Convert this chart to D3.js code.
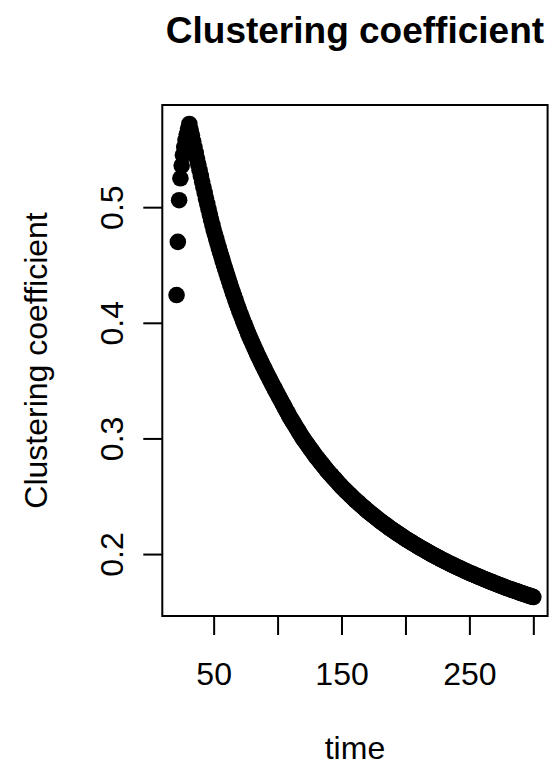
<!DOCTYPE html>
<html>
<head>
<meta charset="utf-8">
<script src="https://cdn.jsdelivr.net/npm/d3@7"></script>
<style>
  body { margin: 0; background: #fff; }
  svg text { font-family: "Liberation Sans", Arial, sans-serif; }
</style>
</head>
<body>
<svg id="chart" width="555" height="767"></svg>
<script>
const time = [
   21, 22, 23, 24, 25, 26, 27, 28, 29, 30, 31, 32, 33, 34, 35, 36, 37, 38, 39, 40,
   41, 42, 43, 44, 45, 46, 47, 48, 49, 50, 51, 52, 53, 54, 55, 56, 57, 58, 59, 60,
   61, 62, 63, 64, 65, 66, 67, 68, 69, 70, 71, 72, 73, 74, 75, 76, 77, 78, 79, 80,
   81, 82, 83, 84, 85, 86, 87, 88, 89, 90, 91, 92, 93, 94, 95, 96, 97, 98, 99,100,
  101,102,103,104,105,106,107,108,109,110,111,112,113,114,115,116,117,118,119,120,
  121,122,123,124,125,126,127,128,129,130,131,132,133,134,135,136,137,138,139,140,
  141,142,143,144,145,146,147,148,149,150,151,152,153,154,155,156,157,158,159,160,
  161,162,163,164,165,166,167,168,169,170,171,172,173,174,175,176,177,178,179,180,
  181,182,183,184,185,186,187,188,189,190,191,192,193,194,195,196,197,198,199,200,
  201,202,203,204,205,206,207,208,209,210,211,212,213,214,215,216,217,218,219,220,
  221,222,223,224,225,226,227,228,229,230,231,232,233,234,235,236,237,238,239,240,
  241,242,243,244,245,246,247,248,249,250,251,252,253,254,255,256,257,258,259,260,
  261,262,263,264,265,266,267,268,269,270,271,272,273,274,275,276,277,278,279,280,
  281,282,283,284,285,286,287,288,289,290,291,292,293,294,295,296,297,298,299,300
];

const clustering = [
  0.424, 0.470, 0.506, 0.525, 0.536, 0.545, 0.552, 0.558, 0.563, 0.568,
  0.572, 0.567, 0.562, 0.557, 0.552, 0.547, 0.542, 0.537, 0.532, 0.527,
  0.5221, 0.5172, 0.5124, 0.5076, 0.5029, 0.4983, 0.4937, 0.4892, 0.4848, 0.4805,
  0.4765, 0.4726, 0.4687, 0.4649, 0.4612, 0.4575, 0.4539, 0.4503, 0.4468, 0.4433,
  0.4399, 0.4364, 0.4330, 0.4296, 0.4263, 0.4230, 0.4198, 0.4167, 0.4136, 0.4106,
  0.4076, 0.4047, 0.4018, 0.3990, 0.3962, 0.3935, 0.3908, 0.3882, 0.3856, 0.3831,
  0.3806, 0.3781, 0.3757, 0.3733, 0.3709, 0.3686, 0.3663, 0.3640, 0.3618, 0.3596,
  0.3574, 0.3552, 0.3530, 0.3509, 0.3487, 0.3466, 0.3445, 0.3424, 0.3403, 0.3382,
  0.3362, 0.3341, 0.3321, 0.3300, 0.3280, 0.3259, 0.3239, 0.3218, 0.3198, 0.3177,
  0.3159, 0.3141, 0.3123, 0.3105, 0.3088, 0.3070, 0.3052, 0.3034, 0.3016, 0.2998,
  0.2983, 0.2967, 0.2952, 0.2936, 0.2921, 0.2905, 0.2890, 0.2874, 0.2859, 0.2843,
  0.2829, 0.2816, 0.2802, 0.2788, 0.2775, 0.2761, 0.2747, 0.2733, 0.2720, 0.2706,
  0.2694, 0.2682, 0.2669, 0.2657, 0.2645, 0.2633, 0.2621, 0.2608, 0.2596, 0.2584,
  0.2573, 0.2562, 0.2551, 0.2540, 0.2530, 0.2519, 0.2508, 0.2497, 0.2486, 0.2475,
  0.2465, 0.2455, 0.2446, 0.2436, 0.2426, 0.2416, 0.2406, 0.2397, 0.2387, 0.2377,
  0.2368, 0.2359, 0.2350, 0.2342, 0.2333, 0.2324, 0.2315, 0.2306, 0.2297, 0.2288,
  0.2280, 0.2272, 0.2264, 0.2256, 0.2248, 0.2239, 0.2231, 0.2223, 0.2215, 0.2207,
  0.2200, 0.2192, 0.2185, 0.2177, 0.2170, 0.2163, 0.2155, 0.2148, 0.2140, 0.2133,
  0.2126, 0.2119, 0.2113, 0.2106, 0.2099, 0.2092, 0.2085, 0.2079, 0.2072, 0.2065,
  0.2059, 0.2052, 0.2046, 0.2040, 0.2034, 0.2027, 0.2021, 0.2015, 0.2008, 0.2002,
  0.1996, 0.1990, 0.1984, 0.1978, 0.1973, 0.1967, 0.1961, 0.1955, 0.1949, 0.1943,
  0.1938, 0.1932, 0.1927, 0.1921, 0.1916, 0.1911, 0.1905, 0.1900, 0.1894, 0.1889,
  0.1884, 0.1879, 0.1874, 0.1869, 0.1864, 0.1858, 0.1853, 0.1848, 0.1843, 0.1838,
  0.1833, 0.1829, 0.1824, 0.1819, 0.1815, 0.1810, 0.1805, 0.1800, 0.1796, 0.1791,
  0.1787, 0.1782, 0.1778, 0.1773, 0.1769, 0.1764, 0.1760, 0.1755, 0.1751, 0.1746,
  0.1742, 0.1738, 0.1733, 0.1729, 0.1725, 0.1721, 0.1717, 0.1712, 0.1708, 0.1704,
  0.1700, 0.1696, 0.1692, 0.1688, 0.1685, 0.1681, 0.1677, 0.1673, 0.1669, 0.1665,
  0.1661, 0.1658, 0.1654, 0.1650, 0.1646, 0.1643, 0.1639, 0.1635, 0.1632, 0.1628
];

const xTicks = [50, 100, 150, 200, 250, 300];
const xTickLabels = ["50", "", "150", "", "250", ""];
const yTicks = [0.2, 0.3, 0.4, 0.5];
const yTickLabels = ["0.2", "0.3", "0.4", "0.5"];

const svg = d3.select("#chart");

const plotLeft = 162.3, plotRight = 547.6, plotTop = 105, plotBottom = 616;
const midX = (plotLeft + plotRight) / 2, midY = (plotTop + plotBottom) / 2;

// R pads the data range by 4% on each side
function padded(ext) {
  const p = (ext[1] - ext[0]) * 0.04;
  return [ext[0] - p, ext[1] + p];
}

const x = d3.scaleLinear().domain(padded(d3.extent(time))).range([plotLeft, plotRight]);
const y = d3.scaleLinear().domain(padded(d3.extent(clustering))).range([plotBottom, plotTop]);

svg.append("rect")
  .attr("width", 555)
  .attr("height", 767)
  .attr("fill", "white");

// points
svg.append("g")
  .selectAll("circle")
  .data(time)
  .join("circle")
    .attr("cx", d => x(d))
    .attr("cy", (d, i) => y(clustering[i]))
    .attr("r", 8.3)
    .attr("fill", "black");

// box
svg.append("rect")
  .attr("x", plotLeft)
  .attr("y", plotTop)
  .attr("width", plotRight - plotLeft)
  .attr("height", plotBottom - plotTop)
  .attr("fill", "none")
  .attr("stroke", "black")
  .attr("stroke-width", 2);

// x axis
const gx = svg.append("g")
  .attr("transform", "translate(0," + plotBottom + ")")
  .call(d3.axisBottom(x)
    .tickValues(xTicks)
    .tickFormat((d, i) => xTickLabels[i])
    .tickSize(19)
    .tickSizeOuter(0));
gx.select(".domain").remove();
gx.selectAll("line").attr("stroke", "black").attr("stroke-width", 2);
gx.selectAll("text")
  .attr("y", 69)
  .attr("dy", null)
  .attr("fill", "black")
  .style("font-size", "32px");

// y axis
const gy = svg.append("g")
  .attr("transform", "translate(" + plotLeft + ",0)")
  .call(d3.axisLeft(y)
    .tickValues(yTicks)
    .tickFormat((d, i) => yTickLabels[i])
    .tickSize(19)
    .tickSizeOuter(0));
gy.select(".domain").remove();
gy.selectAll("line").attr("stroke", "black").attr("stroke-width", 2);
gy.selectAll("text")
  .attr("x", 0)
  .attr("y", -39)
  .attr("dy", null)
  .attr("transform", "rotate(-90)")
  .attr("text-anchor", "middle")
  .attr("fill", "black")
  .style("font-size", "32px");

// title and axis labels
svg.append("text")
  .text("Clustering coefficient")
  .attr("x", midX)
  .attr("y", 43)
  .attr("text-anchor", "middle")
  .style("font-size", "37px")
  .style("font-weight", "bold")
  .attr("fill", "black");

svg.append("text")
  .text("time")
  .attr("x", midX)
  .attr("y", 759)
  .attr("text-anchor", "middle")
  .style("font-size", "32px")
  .attr("fill", "black");

svg.append("text")
  .text("Clustering coefficient")
  .attr("text-anchor", "middle")
  .attr("transform", "translate(47," + midY + ") rotate(-90)")
  .style("font-size", "32px")
  .attr("fill", "black");
</script>
</body>
</html>
